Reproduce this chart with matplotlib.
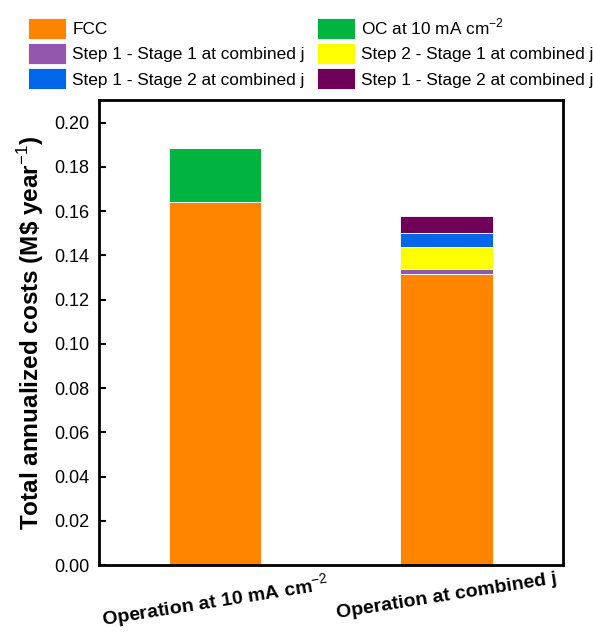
import matplotlib.pyplot as plt
import numpy as np

plt.rcParams['font.family'] = ['Liberation Sans', 'DejaVu Sans']
plt.rcParams['mathtext.fontset'] = 'custom'
plt.rcParams['mathtext.rm'] = 'Liberation Sans'
plt.rcParams['mathtext.bf'] = 'Liberation Sans:bold'

# data (M$ per year)
scenarios = ['Operation at 10 mA cm$^{-2}$', 'Operation at combined j']
fcc = [0.1641, 0.1315]
oc_10 = [0.0244, 0.0]
s1_st1 = [0.0, 0.0021]
s2_st1 = [0.0, 0.0102]
s1_st2 = [0.0, 0.0063]
s1_st2b = [0.0, 0.0075]

labels = ['FCC', 'Step 1 - Stage 1 at combined j', 'Step 1 - Stage 2 at combined j',
          'OC at 10 mA cm$^{-2}$', 'Step 2 - Stage 1 at combined j', 'Step 1 - Stage 2 at combined j']
colors = {'fcc': '#FF8400', 'oc': '#00B43F', 's1st1': '#9457AE',
          's2st1': '#FFFF00', 's1st2': '#0068E8', 's1st2b': '#6E0057'}

fig = plt.figure(figsize=(5.93, 6.32), dpi=100)
ax = fig.add_axes([0.167, 0.106, 0.782, 0.735])

x = np.arange(len(scenarios))
w = 0.4
ek = dict(width=w, edgecolor='#ffffff', linewidth=0.6)
bottom = np.zeros(len(x))
h_fcc = ax.bar(x, fcc, bottom=bottom, color=colors['fcc'], **ek)
bottom += fcc
h_oc = ax.bar(x, oc_10, bottom=bottom, color=colors['oc'], **ek)
bottom += oc_10
h_a = ax.bar(x, s1_st1, bottom=bottom, color=colors['s1st1'], **ek)
bottom += s1_st1
h_b = ax.bar(x, s2_st1, bottom=bottom, color=colors['s2st1'], **ek)
bottom += s2_st1
h_c = ax.bar(x, s1_st2, bottom=bottom, color=colors['s1st2'], **ek)
bottom += s1_st2
h_d = ax.bar(x, s1_st2b, bottom=bottom, color=colors['s1st2b'], **ek)

ax.set_xlim(-0.5, 1.5)
ax.set_ylim(0, 0.21)
ax.set_yticks(np.arange(0, 0.201, 0.02))
ax.set_yticklabels([f'{v:.2f}' for v in np.arange(0, 0.201, 0.02)], fontsize=13)
ax.set_xticks(x)
ax.set_xticklabels(scenarios, fontsize=14, fontweight='bold', rotation=9)
ax.tick_params(axis='y', direction='in', length=5, width=1.5, pad=7)
ax.tick_params(axis='x', length=0, pad=4)
for s in ax.spines.values():
    s.set_linewidth(2)
ax.set_ylabel('Total annualized costs (M\\$ year$^{-1}$)', fontsize=17.5, fontweight='bold', labelpad=6)

handles = [h_fcc, h_a, h_c, h_oc, h_b, h_d]
fig.legend(handles, labels, ncol=2, loc='upper left', bbox_to_anchor=(0.036, 0.985),
           frameon=False, fontsize=12.4, handlelength=2.2, handleheight=1.5,
           handletextpad=0.35, columnspacing=0.7, labelspacing=0.25, borderaxespad=0)

fig.savefig('out.png', dpi=100)
